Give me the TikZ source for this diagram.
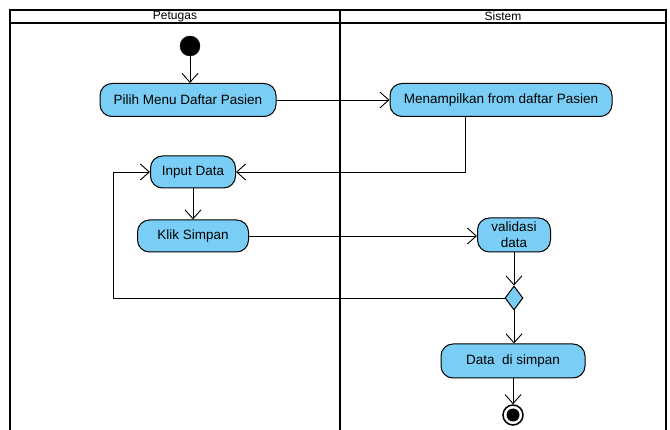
\documentclass[tikz,border=0pt]{standalone}
\usepackage{fontspec}
\setmainfont{Liberation Sans}
\usetikzlibrary{arrows.meta,shapes.geometric}
\definecolor{actfill}{RGB}{122,206,245}

\begin{document}
\begin{tikzpicture}[x=1pt, y=-1pt, >={Straight Barb[length=9pt,width=16pt]},
    font=\fontsize{13.5}{15}\selectfont]
    % Define styles
    \tikzstyle{action} = [draw, fill=actfill, rectangle, rounded corners=12pt, minimum height=33pt, line width=1pt, inner sep=2pt]
    \tikzstyle{decision} = [draw, fill=actfill, diamond, minimum width=18pt, minimum height=24pt, inner sep=0pt, line width=1pt]
    \tikzstyle{initial} = [draw, fill=black, circle, minimum size=20pt]
    \tikzstyle{final} = [draw, fill=white, circle, minimum size=20pt, line width=1.5pt]
    \tikzstyle{lane} = [line width=2.3pt]
    \tikzstyle{flow} = [->, line width=0.9pt]
    \tikzstyle{header} = [font=\fontsize{12}{13}\selectfont]

    \useasboundingbox (0,0) rectangle (670,430);

    % Swimlanes
    \draw [lane] (10,430) -- (10,10) -- (666,10) -- (666,430);
    \draw [lane] (10,23) -- (666,23);
    \draw [lane] (340,10) -- (340,430);
    \node [header] (petugas) at (175,16.5) {Petugas};
    \node [header] (sistem) at (503,16.5) {Sistem};

    % Nodes
    \node [initial] (start) at (190,46) {};
    \node [action, minimum width=176pt] (pilih) at (188,100) {Pilih Menu Daftar Pasien};
    \node [action, minimum width=222pt, right of=pilih, node distance=313pt] (tampil) {Menampilkan from daftar Pasien};
    \node [action, minimum width=85pt, minimum height=32pt] (input) at (193,172) {Input Data};
    \node [action, minimum width=111pt, minimum height=32pt, below of=input, node distance=64pt] (klik) {Klik Simpan};
    \node [action, minimum width=73pt, minimum height=34pt, align=center, font=\fontsize{13.5}{16}\selectfont] (valid) at (514,235) {validasi\\data};
    \node [decision, below of=valid, node distance=63pt] (dec) {};
    \node [action, minimum width=144pt, minimum height=34pt] (simpan) at (513,361) {Data\ \ di simpan};
    \node [final] (stop) at (513,415) {};
    \fill (stop.center) circle (6.5pt);
    \coordinate (back) at (465,0);
    \coordinate (loop) at (113,0);

    % Connections
    \draw [flow] (start) -- (start |- pilih.north);
    \draw [flow] (pilih) -- (tampil);
    \draw [flow] (tampil.south -| back) |- (input);
    \draw [flow] (input) -- (input |- klik.north);
    \draw [flow] (klik) -- (klik -| valid.west);
    \draw [flow] (valid) -- (dec);
    \draw [flow] (dec) -- (dec -| loop) |- (input);
    \draw [flow] (dec) -- (dec |- simpan.north);
    \draw [flow] (simpan) -- (simpan |- stop.north);
\end{tikzpicture}
\end{document}
